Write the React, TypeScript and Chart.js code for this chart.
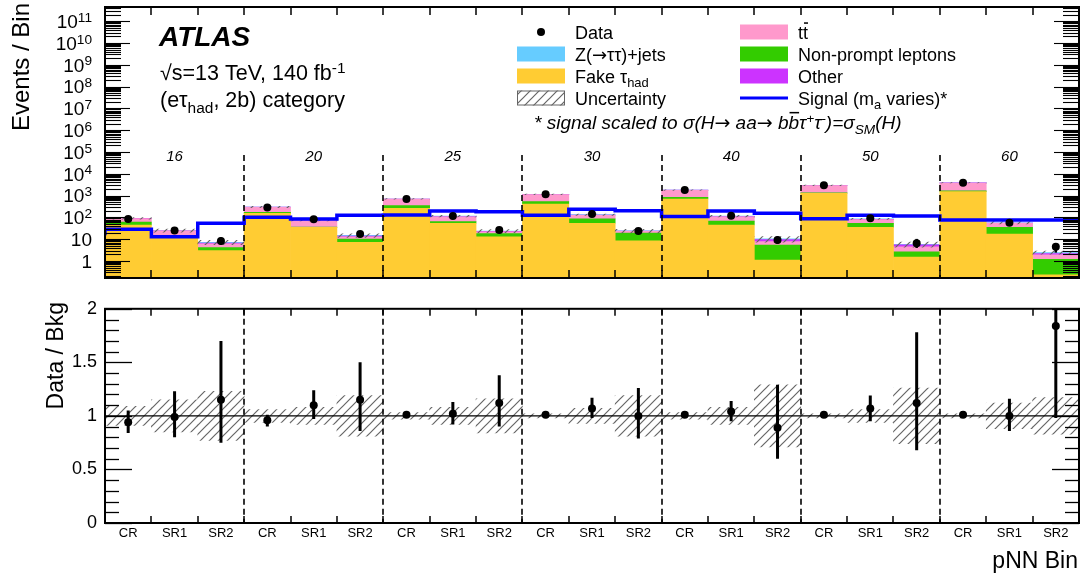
import React, { useEffect, useRef } from 'react';
import { Chart, registerables } from 'chart.js';
Chart.register(...registerables);

const FONT = "'Liberation Sans', 'DejaVu Sans', Arial, sans-serif";

// ---------------- data ----------------
const categories = ['CR', 'SR1', 'SR2', 'CR', 'SR1', 'SR2', 'CR', 'SR1', 'SR2', 'CR', 'SR1', 'SR2', 'CR', 'SR1', 'SR2', 'CR', 'SR1', 'SR2', 'CR', 'SR1', 'SR2'];
const massLabels = ['16', '20', '25', '30', '40', '50', '60'];

const fakeTau = [45, 14.5, 3.0, 154, 35, 7.2, 261, 54, 13, 412, 54, 8.5, 698, 45, 1.1, 1276, 35, 1.5, 1510, 17.3, 0.23];
const nonPrompt = [16.5, 0.5, 1.1, 17, 1, 3.0, 83, 10, 5, 113, 31, 10.7, 138, 23, 4.3, 80, 18.5, 1.1, 150, 17.9, 0.97];
const ttbar = [27, 9, 2.0, 122, 36, 2.8, 346, 42, 4, 585, 40, 3.5, 924, 38, 2.3, 1504, 26, 1.9, 2110, 18.4, 0.7];
const otherBkg = [1, 0.5, 0.6, 3, 1, 1, 5, 3, 0.8, 15, 4, 0.7, 20, 4, 1.8, 40, 2.5, 1.0, 50, 1.5, 0.3];
const zJets = [1, 0.5, 0.5, 4, 1, 1, 5, 5, 0.8, 15, 5, 0.6, 20, 5, 0.8, 40, 3, 0.3, 50, 1.9, 0.26];
const dataEvents = [85, 24.8, 8.3, 288, 81.5, 17.3, 707, 116, 26.4, 1150, 143, 24, 1818, 120, 9.2, 2970, 91, 6.5, 3910, 57, 4.53];
const signal = [15.1, 28.5, 13.0, 53.6, 101, 84.5, 125, 129, 197, 183, 125, 235, 203, 110, 197, 154, 87, 125, 116, 76, 76];

const ratio = [0.94, 0.99, 1.15, 0.96, 1.10, 1.15, 1.01, 1.02, 1.12, 1.01, 1.07, 1.00, 1.01, 1.04, 0.89, 1.01, 1.07, 1.12, 1.01, 1.00, 1.84];
const ratioErrUp = [0.11, 0.24, 0.55, 0.05, 0.14, 0.35, 0.02, 0.11, 0.26, 0.02, 0.10, 0.26, 0.02, 0.10, 0.40, 0.02, 0.12, 0.66, 0.02, 0.16, 0.6];
const ratioErrDown = [0.10, 0.19, 0.40, 0.06, 0.13, 0.29, 0.02, 0.10, 0.22, 0.02, 0.09, 0.21, 0.02, 0.09, 0.29, 0.02, 0.12, 0.44, 0.02, 0.14, 0.86];
const bkgUncRel = [0.09, 0.15, 0.23, 0.06, 0.08, 0.19, 0.03, 0.08, 0.16, 0.02, 0.07, 0.19, 0.03, 0.08, 0.29, 0.02, 0.06, 0.26, 0.02, 0.12, 0.17];

const yTickExponents = [0, 1, 2, 3, 4, 5, 6, 7, 8, 9, 10, 11];
const ratioTicks = [0, 0.5, 1, 1.5, 2];

const COLORS = {
  fake: '#FFCC33',
  np: '#33CC00',
  tt: '#FF99CC',
  other: '#CC33FF',
  z: '#66CCFF',
  signal: '#0000FF',
};

// ---------------- helpers ----------------
type Seg = { t: string; sub?: boolean; sup?: boolean; over?: boolean; font?: string };

function fontStr(size: number, style = '', fam = FONT) {
  return `${style} ${size}px ${fam}`.trim();
}
function segSize(s: Seg, size: number) {
  return s.sub || s.sup ? size * 0.72 : size;
}
function richWidth(ctx: CanvasRenderingContext2D, segs: Seg[], size: number, style = '') {
  let w = 0;
  for (const s of segs) {
    ctx.font = fontStr(segSize(s, size), style, s.font || FONT);
    w += ctx.measureText(s.t).width;
  }
  return w;
}
function drawRich(ctx: CanvasRenderingContext2D, segs: Seg[], x: number, y: number, size: number, style = '', align = 'left') {
  const tw = richWidth(ctx, segs, size, style);
  let cx = align === 'right' ? x - tw : align === 'center' ? x - tw / 2 : x;
  ctx.textAlign = 'left';
  ctx.textBaseline = 'alphabetic';
  for (const s of segs) {
    const fs = segSize(s, size);
    ctx.font = fontStr(fs, style, s.font || FONT);
    const dy = s.sub ? size * 0.27 : s.sup ? -size * 0.33 : 0;
    ctx.fillText(s.t, cx, y + dy);
    const w = ctx.measureText(s.t).width;
    if (s.over) ctx.fillRect(cx + 1, y - size * 0.9, w - 1, Math.max(1.5, size * 0.08));
    cx += w;
  }
}
function seg(ctx: CanvasRenderingContext2D, x1: number, y1: number, x2: number, y2: number) {
  ctx.beginPath();
  ctx.moveTo(x1, y1);
  ctx.lineTo(x2, y2);
  ctx.stroke();
}
function makeHatch(color = '#666', spacing = 9, lw = 1.2) {
  const c = document.createElement('canvas');
  c.width = spacing;
  c.height = spacing;
  const g = c.getContext('2d')!;
  g.strokeStyle = color;
  g.lineWidth = lw;
  g.beginPath();
  g.moveTo(0, spacing);
  g.lineTo(spacing, 0);
  g.moveTo(-spacing / 2, spacing / 2);
  g.lineTo(spacing / 2, -spacing / 2);
  g.moveTo(spacing / 2, spacing * 1.5);
  g.lineTo(spacing * 1.5, spacing / 2);
  g.stroke();
  return g.createPattern(c, 'repeat')!;
}

const totals = fakeTau.map((v, i) => v + nonPrompt[i] + ttbar[i] + otherBkg[i] + zJets[i]);
const ARROW_FONT = "'DejaVu Sans', sans-serif";

// ---------------- plugins ----------------
function makeUpperPlugin(pattern: CanvasPattern) {
  return {
    id: 'upperDecor',
    afterDraw(chart: any) {
      const { ctx, chartArea: a } = chart;
      const x = chart.scales.x;
      const y = chart.scales.y;
      ctx.save();
      ctx.fillStyle = '#000';
      ctx.strokeStyle = '#000';

      // data error bars
      ctx.save();
      ctx.beginPath();
      ctx.rect(a.left, a.top, a.right - a.left, a.bottom - a.top);
      ctx.clip();
      ctx.lineWidth = 2.5;
      dataEvents.forEach((d, i) => {
        const cx = x.getPixelForValue(i + 0.5);
        const up = d * (1 + ratioErrUp[i] / ratio[i]);
        const dn = d * Math.max(1 - ratioErrDown[i] / ratio[i], 0.01);
        seg(ctx, cx, y.getPixelForValue(dn), cx, y.getPixelForValue(up));
      });
      ctx.restore();

      // dashed group separators
      ctx.lineWidth = 1.6;
      ctx.setLineDash([6, 4]);
      for (let g = 1; g < massLabels.length; g++) {
        const px = Math.round(x.getPixelForValue(g * 3));
        seg(ctx, px, 155, px, a.bottom);
      }
      ctx.setLineDash([]);

      // frame
      ctx.lineWidth = 2;
      ctx.strokeRect(a.left, a.top, a.right - a.left, a.bottom - a.top);

      // y ticks (log, inside)
      ctx.lineWidth = 1.1;
      for (let n = -1; n <= 12; n++) {
        for (let k = 1; k <= 9; k++) {
          const v = k * Math.pow(10, n);
          if (v < y.min || v > y.max) continue;
          const py = Math.round(y.getPixelForValue(v)) + 0.5;
          const len = k === 1 ? 25 : 16;
          seg(ctx, a.left, py, a.left + len, py);
          seg(ctx, a.right - len, py, a.right, py);
        }
      }
      // x ticks
      ctx.lineWidth = 1.5;
      for (let i = 1; i < categories.length; i++) {
        const px = Math.round(x.getPixelForValue(i));
        seg(ctx, px, a.bottom, px, a.bottom - 8);
        seg(ctx, px, a.top, px, a.top + 8);
      }

      // y tick labels
      ctx.fillStyle = '#000';
      yTickExponents.forEach((n) => {
        const py = y.getPixelForValue(Math.pow(10, n));
        const segs: Seg[] = n === 0 ? [{ t: '1' }] : n === 1 ? [{ t: '10' }] : [{ t: '10' }, { t: String(n), sup: true }];
        drawRich(ctx, segs, 92, py + 6.8, 19, '', 'right');
      });

      // y title
      ctx.save();
      ctx.translate(29, 3);
      ctx.rotate(-Math.PI / 2);
      ctx.font = fontStr(24);
      ctx.textAlign = 'right';
      ctx.textBaseline = 'alphabetic';
      ctx.fillText('Events / Bin', 0, 0);
      ctx.restore();

      // mass labels
      ctx.font = fontStr(15, 'italic');
      ctx.textAlign = 'center';
      ctx.textBaseline = 'middle';
      massLabels.forEach((m, g) => {
        ctx.fillText(m, x.getPixelForValue(g * 3 + 1.5), 157);
      });

      // ATLAS labels
      ctx.textAlign = 'left';
      ctx.textBaseline = 'alphabetic';
      ctx.font = fontStr(28, 'italic bold');
      ctx.fillText('ATLAS', 159, 46);
      drawRich(ctx, [{ t: '\u221As=13 TeV, 140 fb' }, { t: '-1', sup: true }], 160, 80, 21.5);
      drawRich(ctx, [{ t: '(e\u03C4' }, { t: 'had', sub: true }, { t: ', 2b) category' }], 160, 107, 21.5);

      // legend
      const rows = [32, 54, 76, 98];
      const lx = 517, rx = 740, bw = 48, bh = 15;
      const lt = 575, rt = 798, fs = 18;
      // Data
      ctx.beginPath();
      ctx.arc(lx + bw / 2, rows[0], 4, 0, Math.PI * 2);
      ctx.fill();
      drawRich(ctx, [{ t: 'Data' }], lt, rows[0] + 6.5, fs);
      ctx.fillStyle = COLORS.z;
      ctx.fillRect(lx, rows[1] - bh / 2, bw, bh);
      ctx.fillStyle = '#000';
      drawRich(ctx, [{ t: 'Z(' }, { t: '\u2192', font: ARROW_FONT }, { t: '\u03C4\u03C4)+jets' }], lt, rows[1] + 6.5, fs);
      ctx.fillStyle = COLORS.fake;
      ctx.fillRect(lx, rows[2] - bh / 2, bw, bh);
      ctx.fillStyle = '#000';
      drawRich(ctx, [{ t: 'Fake \u03C4' }, { t: 'had', sub: true }], lt, rows[2] + 6.5, fs);
      ctx.fillStyle = pattern;
      ctx.fillRect(lx, rows[3] - bh / 2, bw, bh);
      ctx.strokeStyle = '#666';
      ctx.lineWidth = 1;
      ctx.strokeRect(lx + 0.5, rows[3] - bh / 2 + 0.5, bw - 1, bh - 1);
      ctx.fillStyle = '#000';
      drawRich(ctx, [{ t: 'Uncertainty' }], lt, rows[3] + 6.5, fs);

      ctx.fillStyle = COLORS.tt;
      ctx.fillRect(rx, rows[0] - bh / 2, bw, bh);
      ctx.fillStyle = '#000';
      drawRich(ctx, [{ t: 't' }, { t: 't', over: true }], rt, rows[0] + 6.5, fs);
      ctx.fillStyle = COLORS.np;
      ctx.fillRect(rx, rows[1] - bh / 2, bw, bh);
      ctx.fillStyle = '#000';
      drawRich(ctx, [{ t: 'Non-prompt leptons' }], rt, rows[1] + 6.5, fs);
      ctx.fillStyle = COLORS.other;
      ctx.fillRect(rx, rows[2] - bh / 2, bw, bh);
      ctx.fillStyle = '#000';
      drawRich(ctx, [{ t: 'Other' }], rt, rows[2] + 6.5, fs);
      ctx.strokeStyle = COLORS.signal;
      ctx.lineWidth = 3;
      seg(ctx, rx, rows[3], rx + bw, rows[3]);
      ctx.fillStyle = '#000';
      drawRich(ctx, [{ t: 'Signal (m' }, { t: 'a', sub: true }, { t: ' varies)*' }], rt, rows[3] + 6.5, fs);

      drawRich(
        ctx,
        [
          { t: '* signal scaled to \u03C3(H' },
          { t: '\u2192', font: ARROW_FONT },
          { t: ' aa' },
          { t: '\u2192', font: ARROW_FONT },
          { t: ' b' },
          { t: 'b', over: true },
          { t: '\u03C4' },
          { t: '+', sup: true },
          { t: '\u03C4' },
          { t: '-', sup: true },
          { t: ')=\u03C3' },
          { t: 'SM', sub: true },
          { t: '(H)' },
        ],
        534,
        129,
        19,
        'italic'
      );
      ctx.restore();
    },
  };
}

const lowerPlugin = {
  id: 'lowerDecor',
  afterDraw(chart: any) {
    const { ctx, chartArea: a } = chart;
    const x = chart.scales.x;
    const y = chart.scales.y;
    ctx.save();
    ctx.strokeStyle = '#000';
    ctx.fillStyle = '#000';

    // error bars
    ctx.save();
    ctx.beginPath();
    ctx.rect(a.left, a.top, a.right - a.left, a.bottom - a.top);
    ctx.clip();
    ctx.lineWidth = 3;
    ratio.forEach((r, i) => {
      const cx = x.getPixelForValue(i + 0.5);
      seg(ctx, cx, y.getPixelForValue(r - ratioErrDown[i]), cx, y.getPixelForValue(r + ratioErrUp[i]));
    });
    ctx.restore();

    // dashed separators
    ctx.lineWidth = 1.6;
    ctx.setLineDash([6, 4]);
    for (let g = 1; g < massLabels.length; g++) {
      const px = Math.round(x.getPixelForValue(g * 3));
      seg(ctx, px, a.top, px, a.bottom);
    }
    ctx.setLineDash([]);

    // frame
    ctx.lineWidth = 2;
    ctx.strokeRect(a.left, a.top, a.right - a.left, a.bottom - a.top);

    // y ticks
    ctx.lineWidth = 1.3;
    for (let k = 0; k <= 20; k++) {
      const v = k / 10;
      const py = Math.round(y.getPixelForValue(v)) + 0.5;
      const len = k % 5 === 0 ? 27 : 14;
      seg(ctx, a.left, py, a.left + len, py);
      seg(ctx, a.right - len, py, a.right, py);
    }
    // x ticks
    ctx.lineWidth = 1.5;
    for (let i = 1; i < categories.length; i++) {
      const px = Math.round(x.getPixelForValue(i));
      seg(ctx, px, a.bottom, px, a.bottom - 7);
      seg(ctx, px, a.top, px, a.top + 7);
    }

    // titles
    ctx.save();
    ctx.translate(63, 12);
    ctx.rotate(-Math.PI / 2);
    ctx.font = fontStr(23);
    ctx.textAlign = 'right';
    ctx.textBaseline = 'alphabetic';
    ctx.fillText('Data / Bkg', 0, 0);
    ctx.restore();

    ctx.font = fontStr(23);
    ctx.textAlign = 'right';
    ctx.textBaseline = 'alphabetic';
    ctx.fillText('pNN Bin', 1078, 278);
    ctx.restore();
  },
};

// ---------------- component ----------------
export default function App() {
  const topRef = useRef<HTMLCanvasElement>(null);
  const botRef = useRef<HTMLCanvasElement>(null);

  useEffect(() => {
    Chart.defaults.font.family = FONT;
    const pattern = makeHatch('#666', 9, 1.2);
    const bar = (label: string, arr: number[], color: string) => ({
      type: 'bar' as const,
      label,
      data: arr.map((v, i) => ({ x: i + 0.5, y: v })),
      backgroundColor: color,
      borderWidth: 0,
      barPercentage: 1,
      categoryPercentage: 1,
      stack: 'bkg',
      order: 0,
    });

    const top = new Chart(topRef.current!, {
      type: 'bar',
      data: {
        datasets: [
          {
            type: 'line',
            label: 'Data',
            data: dataEvents.map((v, i) => ({ x: i + 0.5, y: v })),
            showLine: false,
            pointRadius: 4,
            pointBackgroundColor: '#000',
            pointBorderColor: '#000',
            pointBorderWidth: 0,
            stack: 'data',
            order: -3,
          } as any,
          {
            type: 'line',
            label: 'Signal',
            data: [...signal.map((v, i) => ({ x: i, y: v })), { x: signal.length, y: signal[signal.length - 1] }],
            stepped: 'after',
            borderColor: COLORS.signal,
            borderWidth: 3.5,
            pointRadius: 0,
            fill: false,
            stack: 'sig',
            order: -2,
          } as any,
          {
            type: 'bar',
            label: 'Uncertainty',
            data: totals.map((t, i) => ({ x: i + 0.5, y: [t * (1 - bkgUncRel[i]), t * (1 + bkgUncRel[i])] })),
            backgroundColor: pattern,
            borderWidth: 0,
            barPercentage: 1,
            categoryPercentage: 1,
            grouped: false,
            stack: 'unc',
            order: -1,
          } as any,
          bar('Fake tau', fakeTau, COLORS.fake),
          bar('Non-prompt leptons', nonPrompt, COLORS.np),
          bar('ttbar', ttbar, COLORS.tt),
          bar('Other', otherBkg, COLORS.other),
          bar('Z+jets', zJets, COLORS.z),
        ] as any,
      },
      options: {
        responsive: false,
        animation: false,
        devicePixelRatio: 1,
        layout: { padding: { left: 105, top: 7, right: 5, bottom: 12 } },
        plugins: { legend: { display: false }, tooltip: { enabled: false } },
        scales: {
          x: {
            type: 'linear',
            min: 0,
            max: categories.length,
            offset: false,
            display: false,
            stacked: true,
            afterBuildTicks: (s: any) => {
              s.ticks = categories.map((_, i) => ({ value: i })).concat([{ value: categories.length }]);
            },
          },
          y: {
            type: 'logarithmic',
            min: 0.166,
            max: 4.48e11,
            display: false,
            stacked: true,
          },
        },
      } as any,
      plugins: [makeUpperPlugin(pattern)],
    });

    const bot = new Chart(botRef.current!, {
      type: 'bar',
      data: {
        datasets: [
          {
            type: 'line',
            label: 'Data / Bkg',
            data: ratio.map((v, i) => ({ x: i + 0.5, y: v })),
            showLine: false,
            pointRadius: 4,
            pointBackgroundColor: '#000',
            pointBorderColor: '#000',
            pointBorderWidth: 0,
            order: -3,
          } as any,
          {
            type: 'line',
            label: 'unity',
            data: [
              { x: 0, y: 1 },
              { x: categories.length, y: 1 },
            ],
            borderColor: '#000',
            borderWidth: 1.4,
            pointRadius: 0,
            fill: false,
            order: -1,
          } as any,
          {
            type: 'bar',
            label: 'Uncertainty',
            data: bkgUncRel.map((u, i) => ({ x: i + 0.5, y: [1 - u, 1 + u] })),
            backgroundColor: pattern,
            borderWidth: 0,
            barPercentage: 1,
            categoryPercentage: 1,
            order: 0,
          } as any,
        ] as any,
      },
      options: {
        responsive: false,
        animation: false,
        devicePixelRatio: 1,
        layout: { padding: { left: 0, top: 12, right: 5, bottom: 0 } },
        plugins: { legend: { display: false }, tooltip: { enabled: false } },
        scales: {
          x: {
            type: 'linear',
            min: 0,
            max: categories.length,
            offset: false,
            grid: { display: false, drawTicks: false },
            border: { display: false },
            afterBuildTicks: (s: any) => {
              s.ticks = categories.map((_, i) => ({ value: i + 0.5 }));
            },
            afterFit: (s: any) => {
              s.height = 54;
            },
            ticks: {
              autoSkip: false,
              maxRotation: 0,
              minRotation: 0,
              padding: 3,
              color: '#000',
              font: { size: 13, family: FONT },
              callback: (_v: any, idx: number) => categories[idx],
            },
          },
          y: {
            type: 'linear',
            min: 0,
            max: 2,
            grid: { display: false, drawTicks: false },
            border: { display: false },
            afterBuildTicks: (s: any) => {
              s.ticks = ratioTicks.map((v) => ({ value: v }));
            },
            afterFit: (s: any) => {
              s.width = 105;
            },
            ticks: {
              padding: 8,
              color: '#000',
              font: { size: 18, family: FONT },
              callback: (v: any) => String(v),
            },
          },
        },
      } as any,
      plugins: [lowerPlugin],
    });

    return () => {
      top.destroy();
      bot.destroy();
    };
  }, []);

  return (
    <div style={{ position: 'absolute', left: 0, top: 0, width: 1084, height: 577, background: '#fff' }}>
      <canvas ref={topRef} width={1084} height={290} style={{ position: 'absolute', left: 0, top: 0, width: 1084, height: 290 }} />
      <canvas ref={botRef} width={1084} height={287} style={{ position: 'absolute', left: 0, top: 290, width: 1084, height: 287 }} />
    </div>
  );
}
